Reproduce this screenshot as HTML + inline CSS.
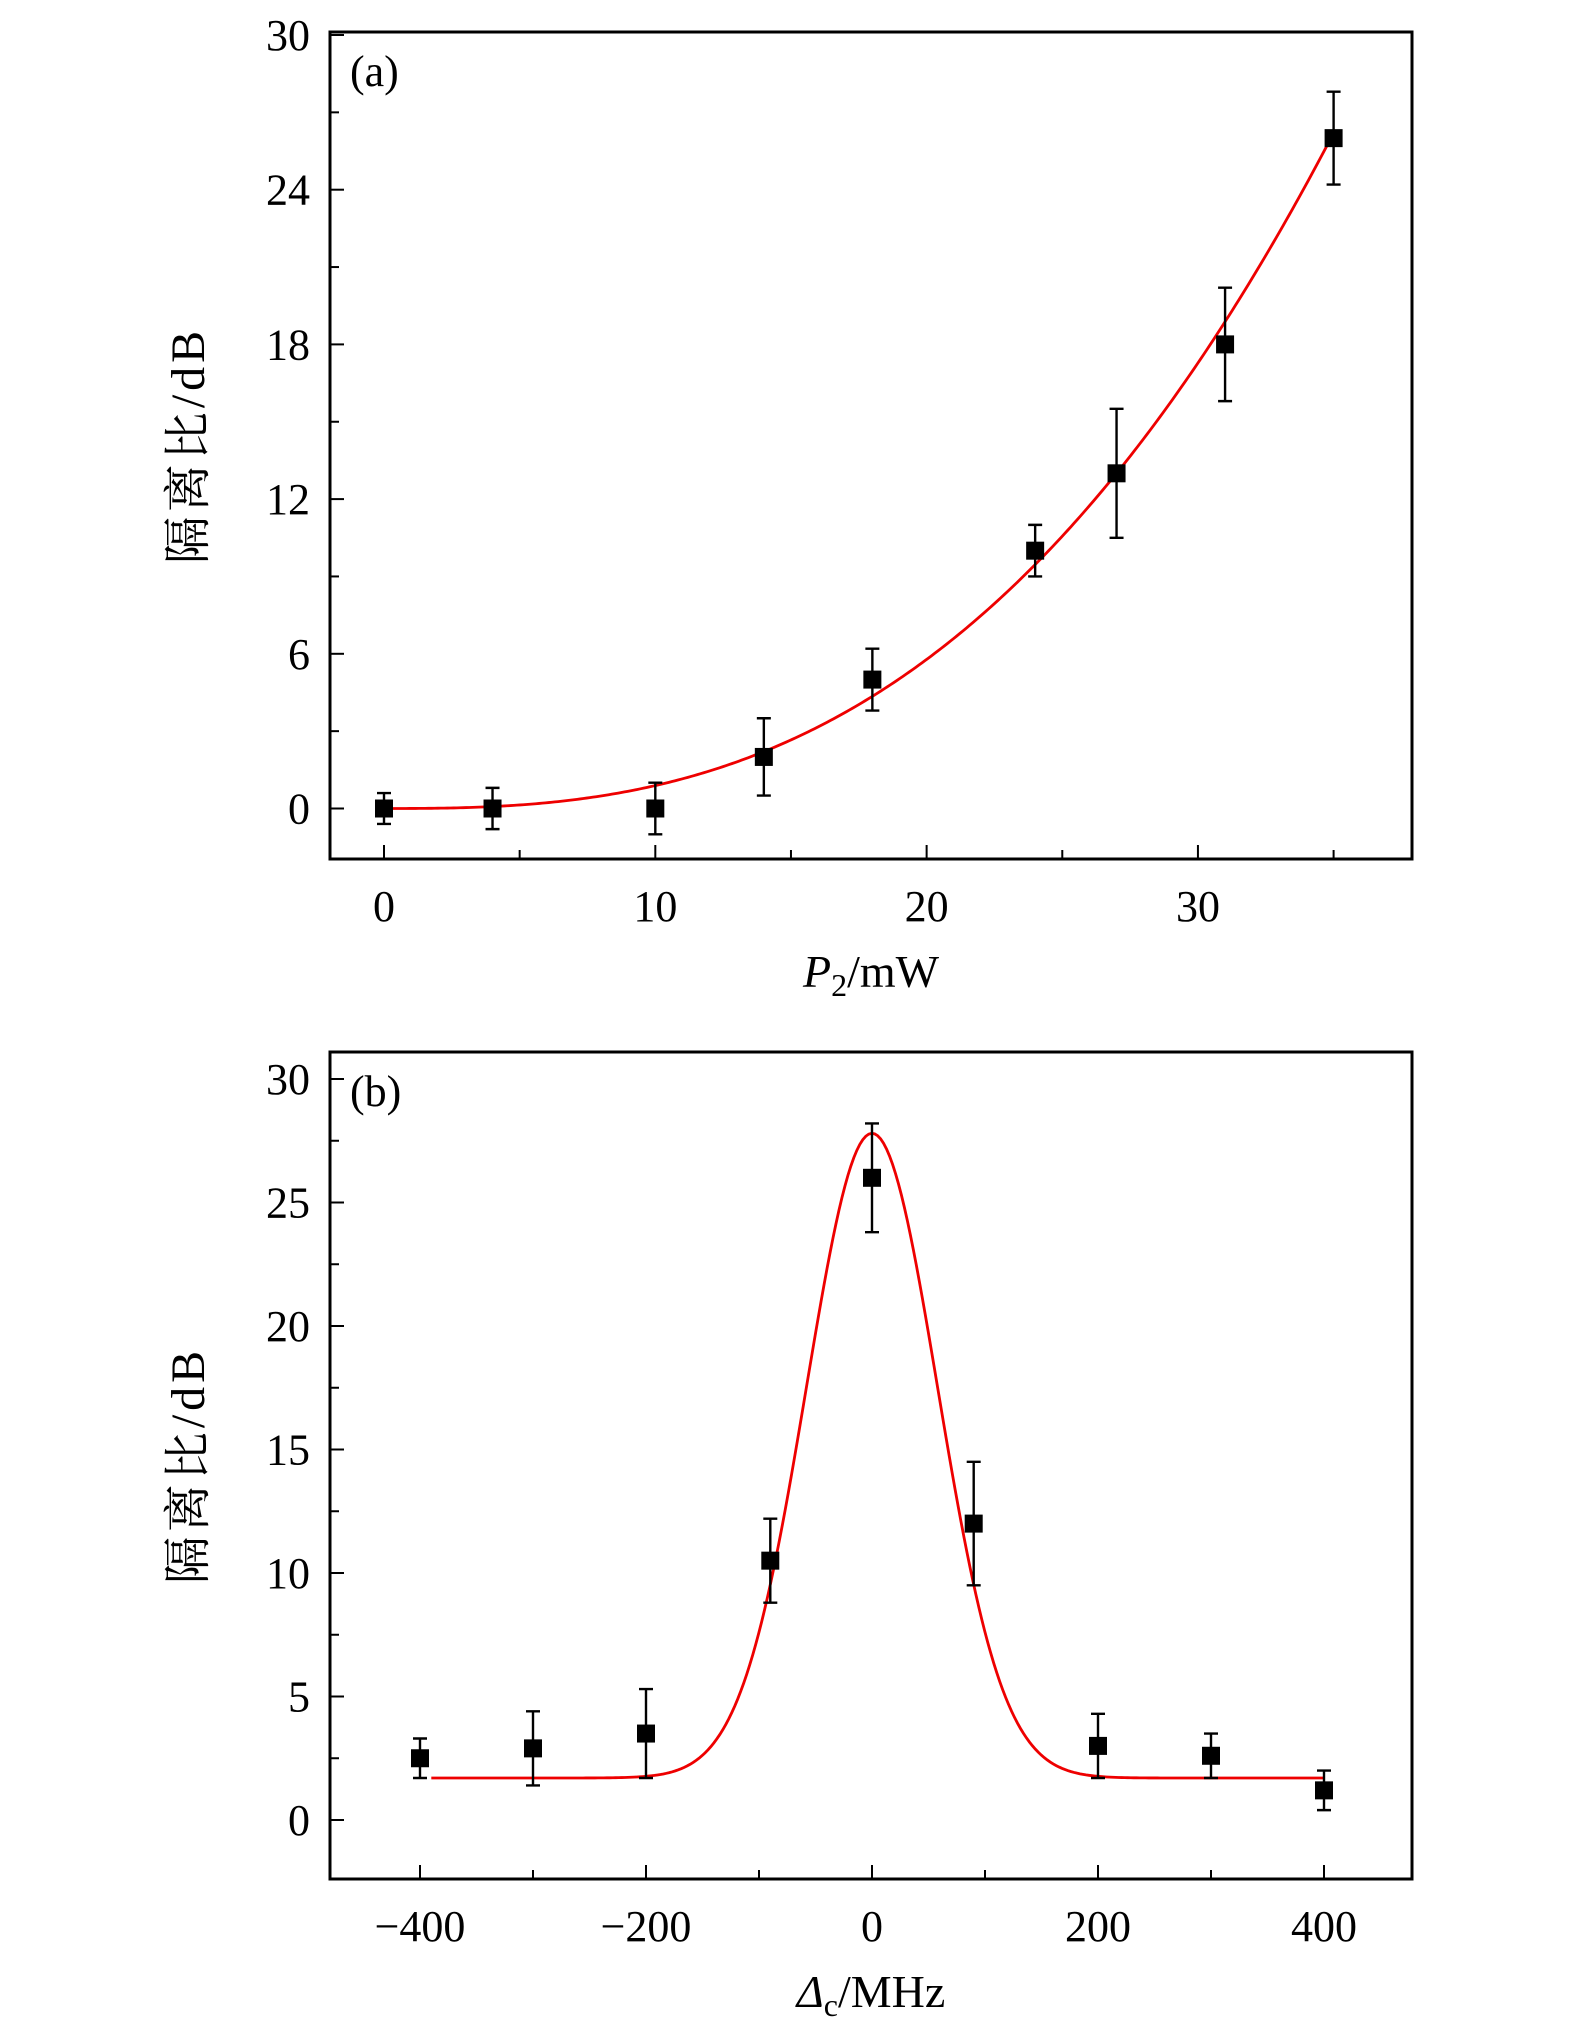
<!DOCTYPE html>
<html><head><meta charset="utf-8"><style>
html,body{margin:0;padding:0;background:#fff}
svg text{font-family:"Liberation Serif","Noto Serif CJK SC",serif;fill:#000}
</style></head><body>
<svg id="s" width="1575" height="2037" viewBox="0 0 1575 2037" xmlns="http://www.w3.org/2000/svg"></svg>
<script>
const aX=[0,4,10,14,18,24,27,31,35];
const aY=[0,0,0,2,5,10,13,18,26];
const aErr=[0.6,0.8,1,1.5,1.2,1,2.5,2.2,1.8];
const aYTicks=[0,6,12,18,24,30];
const aXTicks=[0,10,20,30];
const bX=[-400,-300,-200,-90,0,90,200,300,400];
const bY=[2.5,2.9,3.5,10.5,26,12,3,2.6,1.2];
const bErr=[0.8,1.5,1.8,1.7,2.2,2.5,1.3,0.9,0.8];
const bYTicks=[0,5,10,15,20,25,30];
const bXTicks=[-400,-200,0,200,400];
const NS="http://www.w3.org/2000/svg";
const svg=document.getElementById('s');
function el(t,a,p){const e=document.createElementNS(NS,t);for(const k in a)e.setAttribute(k,a[k]);(p||svg).appendChild(e);return e;}
function panel(o){
  const g=el('g',{});
  
  
  const sx=v=>o.x0+(v-o.xa)*(o.x1-o.x0)/(o.xb-o.xa);
  const sy=v=>o.y0+(v-o.ya)*(o.y1-o.y0)/(o.yb-o.ya);
  const fr=el('rect',{x:330,y:o.top,width:1082,height:o.bot-o.top,fill:'none',stroke:'#000','stroke-width':3},g);
  
  o.yt.forEach((v,i)=>{
    const y=sy(v);
    el('line',{x1:330,x2:344,y1:y,y2:y,stroke:'#000','stroke-width':2},g);
    const t=el('text',{x:310,y:y+15,'text-anchor':'end','font-size':44},g);t.textContent=v;
    
    if(i<o.yt.length-1){const m=sy(v+o.ystep/2);el('line',{x1:330,x2:339,y1:m,y2:m,stroke:'#000','stroke-width':2},g);}
  });
  o.xt.forEach(v=>{
    const x=sx(v);
    el('line',{x1:x,x2:x,y1:o.bot,y2:o.bot-14,stroke:'#000','stroke-width':2},g);
    const t=el('text',{x:x,y:o.bot+62,'text-anchor':'middle','font-size':44},g);t.textContent=(v<0?'\u2212'+(-v):v);
    
  });
  o.xm.forEach(v=>{const x=sx(v);el('line',{x1:x,x2:x,y1:o.bot,y2:o.bot-9,stroke:'#000','stroke-width':2},g);});
  let d='';for(let i=0;i<=300;i++){const v=o.fa+(o.fb-o.fa)*i/300;d+=(i?'L':'M')+sx(v).toFixed(2)+','+sy(o.f(v)).toFixed(2);}
  const fp=el('path',{d:d,fill:'none',stroke:'#e00','stroke-width':2.8},g);
  
  o.X.forEach((xv,i)=>{
    const x=sx(xv),y=sy(o.Y[i]),yu=sy(o.Y[i]+o.E[i]),yd=sy(o.Y[i]-o.E[i]);
    const eb=el('path',{d:`M${x},${yu}V${yd}M${x-7},${yu}H${x+7}M${x-7},${yd}H${x+7}`,stroke:'#000','stroke-width':2.4,fill:'none'},g);
    
    const r=el('rect',{x:x-9,y:y-9,width:18,height:18,fill:'#000'},g);
    
  });
  const lb=el('text',{x:350,y:o.top+54,'font-size':44},g);lb.textContent=o.label;
  
  const yl=el('text',{x:0,y:0,'font-size':48,'letter-spacing':4,'text-anchor':'middle',transform:`translate(204,${(o.top+o.bot)/2}) rotate(-90)`},g);
  yl.textContent='隔离比/dB';
  const xl=el('text',{x:871,y:o.bot+128,'font-size':46,'text-anchor':'middle'},g);
  xl.innerHTML=o.xlab;
}
panel({name:'panel-a',top:32,bot:859,xa:0,xb:35,x0:384,x1:1333.6,ya:0,yb:30,y0:808.5,y1:35,
  yt:aYTicks,ystep:6,xt:aXTicks,xm:[5,15,25,35],X:aX,Y:aY,E:aErr,fa:0,fb:35,
  f:v=>26.2*Math.pow(v/35,2.7),label:'(a)',xlab:'<tspan font-style="italic">P</tspan><tspan font-size="32" dy="9">2</tspan><tspan dy="-9">/mW</tspan>'});
panel({name:'panel-b',top:1052,bot:1879,xa:-400,xb:400,x0:420,x1:1324,ya:0,yb:30,y0:1820,y1:1079,
  yt:bYTicks,ystep:5,xt:bXTicks,xm:[-300,-100,100,300],X:bX,Y:bY,E:bErr,fa:-390,fb:400,
  f:v=>1.7+26.1*Math.exp(-v*v/(2*58*58)),label:'(b)',xlab:'<tspan font-style="italic">Δ</tspan><tspan font-size="32" dy="9">c</tspan><tspan dy="-9">/MHz</tspan>'});
</script>
</body></html>
